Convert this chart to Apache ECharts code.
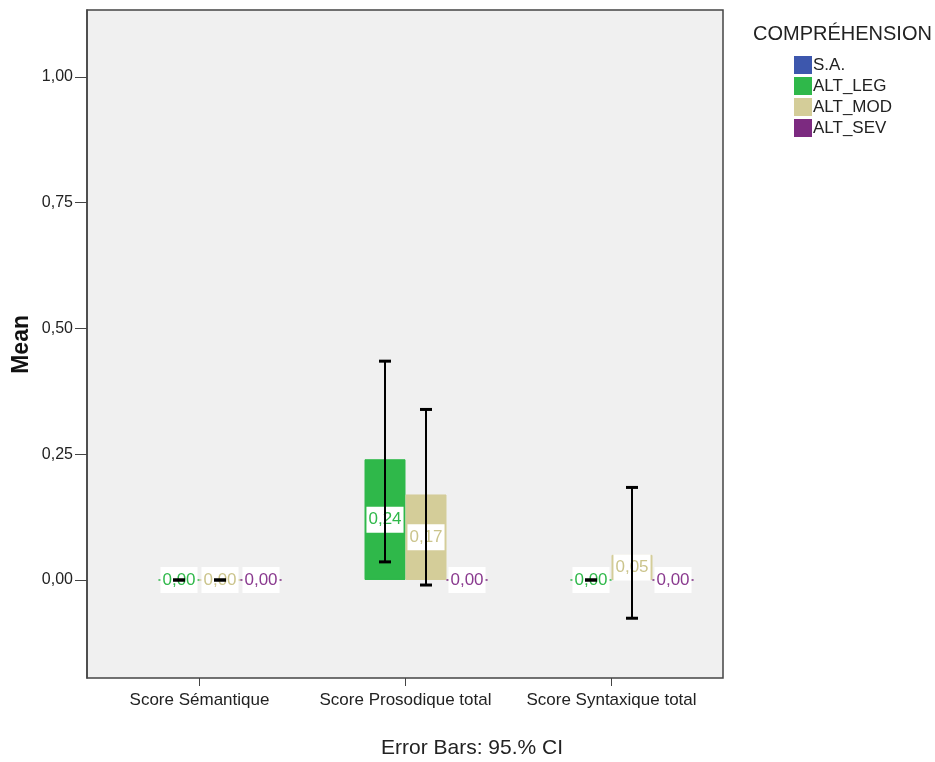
<!DOCTYPE html>
<html><head><meta charset="utf-8">
<script src="https://cdn.jsdelivr.net/npm/echarts@6/dist/echarts.min.js"></script>
<style>html,body{margin:0;padding:0;background:#fff}#c{width:935px;height:762px}</style>
</head><body><div id="c"></div>
<script>
const categories = ['Score Sémantique', 'Score Prosodique total', 'Score Syntaxique total'];
const seriesNames = ['S.A.', 'ALT_LEG', 'ALT_MOD', 'ALT_SEV'];
const meanSA  = [null, null, null];
const meanLEG = [0.00, 0.24, 0.00];
const meanMOD = [0.00, 0.17, 0.05];
const meanSEV = [0.00, 0.00, 0.00];
const ciLowLEG  = [0.00, 0.036, 0.00];
const ciHighLEG = [0.00, 0.435, 0.00];
const ciLowMOD  = [0.00, -0.010, -0.076];
const ciHighMOD = [0.00, 0.339, 0.184];
const yTicks = [0, 0.25, 0.5, 0.75, 1.0];
const footnote = 'Error Bars: 95.% CI';
const legendTitle = 'COMPRÉHENSION';
const yTitle = 'Mean';

const colors = ['#3d57ad', '#2fb84a', '#d4cd99', '#7c2a80'];
const labelColors = ['#3d57ad', '#2fb84a', '#cbc48c', '#8a3a8f'];
const FONT = 'Liberation Sans, Arial, sans-serif';
const BAR_W = 41;
const YMIN = -0.1948, YMAX = 1.133;
const fmt = v => v.toFixed(2).replace('.', ',');

const means = [meanSA, meanLEG, meanMOD, meanSEV];
const errData = [];
[[1, ciLowLEG, ciHighLEG], [2, ciLowMOD, ciHighMOD]].forEach(([si, lo, hi]) => {
  categories.forEach((c, i) => {
    if (lo[i] != null && hi[i] != null) errData.push([i, lo[i], hi[i], si]);
  });
});

const barSeries = seriesNames.map((n, si) => ({
  name: n, type: 'bar', xAxisIndex: 1, yAxisIndex: 1,
  barWidth: BAR_W, barGap: '0%', z: 2,
  itemStyle: { color: colors[si], borderColor: colors[si], borderWidth: 1 },
  data: means[si],
  label: {
    show: true, position: 'inside', formatter: p => fmt(p.value),
    color: labelColors[si], backgroundColor: '#fff', padding: [5, 2, 4, 2],
    fontFamily: FONT, fontSize: 17
  }
}));

const chart = echarts.init(document.getElementById('c'));
chart.setOption({
  animation: false,
  backgroundColor: '#fff',
  title: { text: legendTitle, left: 748, top: 19, textStyle: { fontFamily: FONT, fontSize: 20, fontWeight: 'normal', color: '#222' } },
  legend: {
    data: seriesNames, orient: 'vertical', left: 789, top: 51, itemWidth: 16, itemHeight: 16, itemGap: 3,
    icon: 'rect', textStyle: { fontFamily: FONT, fontSize: 17, color: '#222', padding: [0, 0, 0, -3] }
  },
  graphic: [
    { type: 'text', left: 381, top: 738, style: { text: footnote, font: '21px ' + FONT, fill: '#222' } },
    { type: 'text', left: 10, top: 315, rotation: Math.PI / 2, style: { text: yTitle, font: 'bold 23px ' + FONT, fill: '#111' } }
  ],
  grid: [
    { left: 87, top: 10, width: 636, height: 668, show: true, backgroundColor: '#f0f0f0', borderColor: '#444', borderWidth: 1.5 },
    { left: 96.5, top: 10, width: 618, height: 668 }
  ],
  xAxis: [
    { type: 'value', gridIndex: 0, show: false, min: 0, max: 1 },
    { type: 'category', gridIndex: 1, data: categories, position: 'bottom',
      axisLine: { show: false, onZero: false },
      axisTick: { show: true, alignWithLabel: true, interval: 0, length: 8, lineStyle: { color: '#444' } },
      axisLabel: { interval: 0, hideOverlap: false, fontFamily: FONT, fontSize: 17, color: '#222', margin: 14 } }
  ],
  yAxis: [
    { type: 'value', gridIndex: 0, min: YMIN, max: YMAX,
      axisLine: { show: true, lineStyle: { color: '#444', width: 1.5 } },
      axisTick: { show: true, length: 12, customValues: yTicks, lineStyle: { color: '#444' } },
      axisLabel: { customValues: yTicks, formatter: fmt, fontFamily: FONT, fontSize: 16, color: '#222', margin: 14 },
      splitLine: { show: false } },
    { type: 'value', gridIndex: 1, min: YMIN, max: YMAX, show: false, splitLine: { show: false } }
  ],
  series: barSeries.concat([{
    type: 'custom', xAxisIndex: 1, yAxisIndex: 1, z: 10, silent: true,
    data: errData,
    renderItem: (params, api) => {
      const cx = api.coord([api.value(0), 0])[0] + (api.value(3) - 1.5) * BAR_W;
      const yl = api.coord([api.value(0), api.value(1)])[1];
      const yh = api.coord([api.value(0), api.value(2)])[1];
      return { type: 'group', children: [
        { type: 'line', shape: { x1: cx, y1: yl, x2: cx, y2: yh }, style: { stroke: '#000', lineWidth: 2 } },
        { type: 'line', shape: { x1: cx - 6, y1: yl, x2: cx + 6, y2: yl }, style: { stroke: '#000', lineWidth: 3 } },
        { type: 'line', shape: { x1: cx - 6, y1: yh, x2: cx + 6, y2: yh }, style: { stroke: '#000', lineWidth: 3 } }
      ] };
    }
  }])
});
</script></body></html>
